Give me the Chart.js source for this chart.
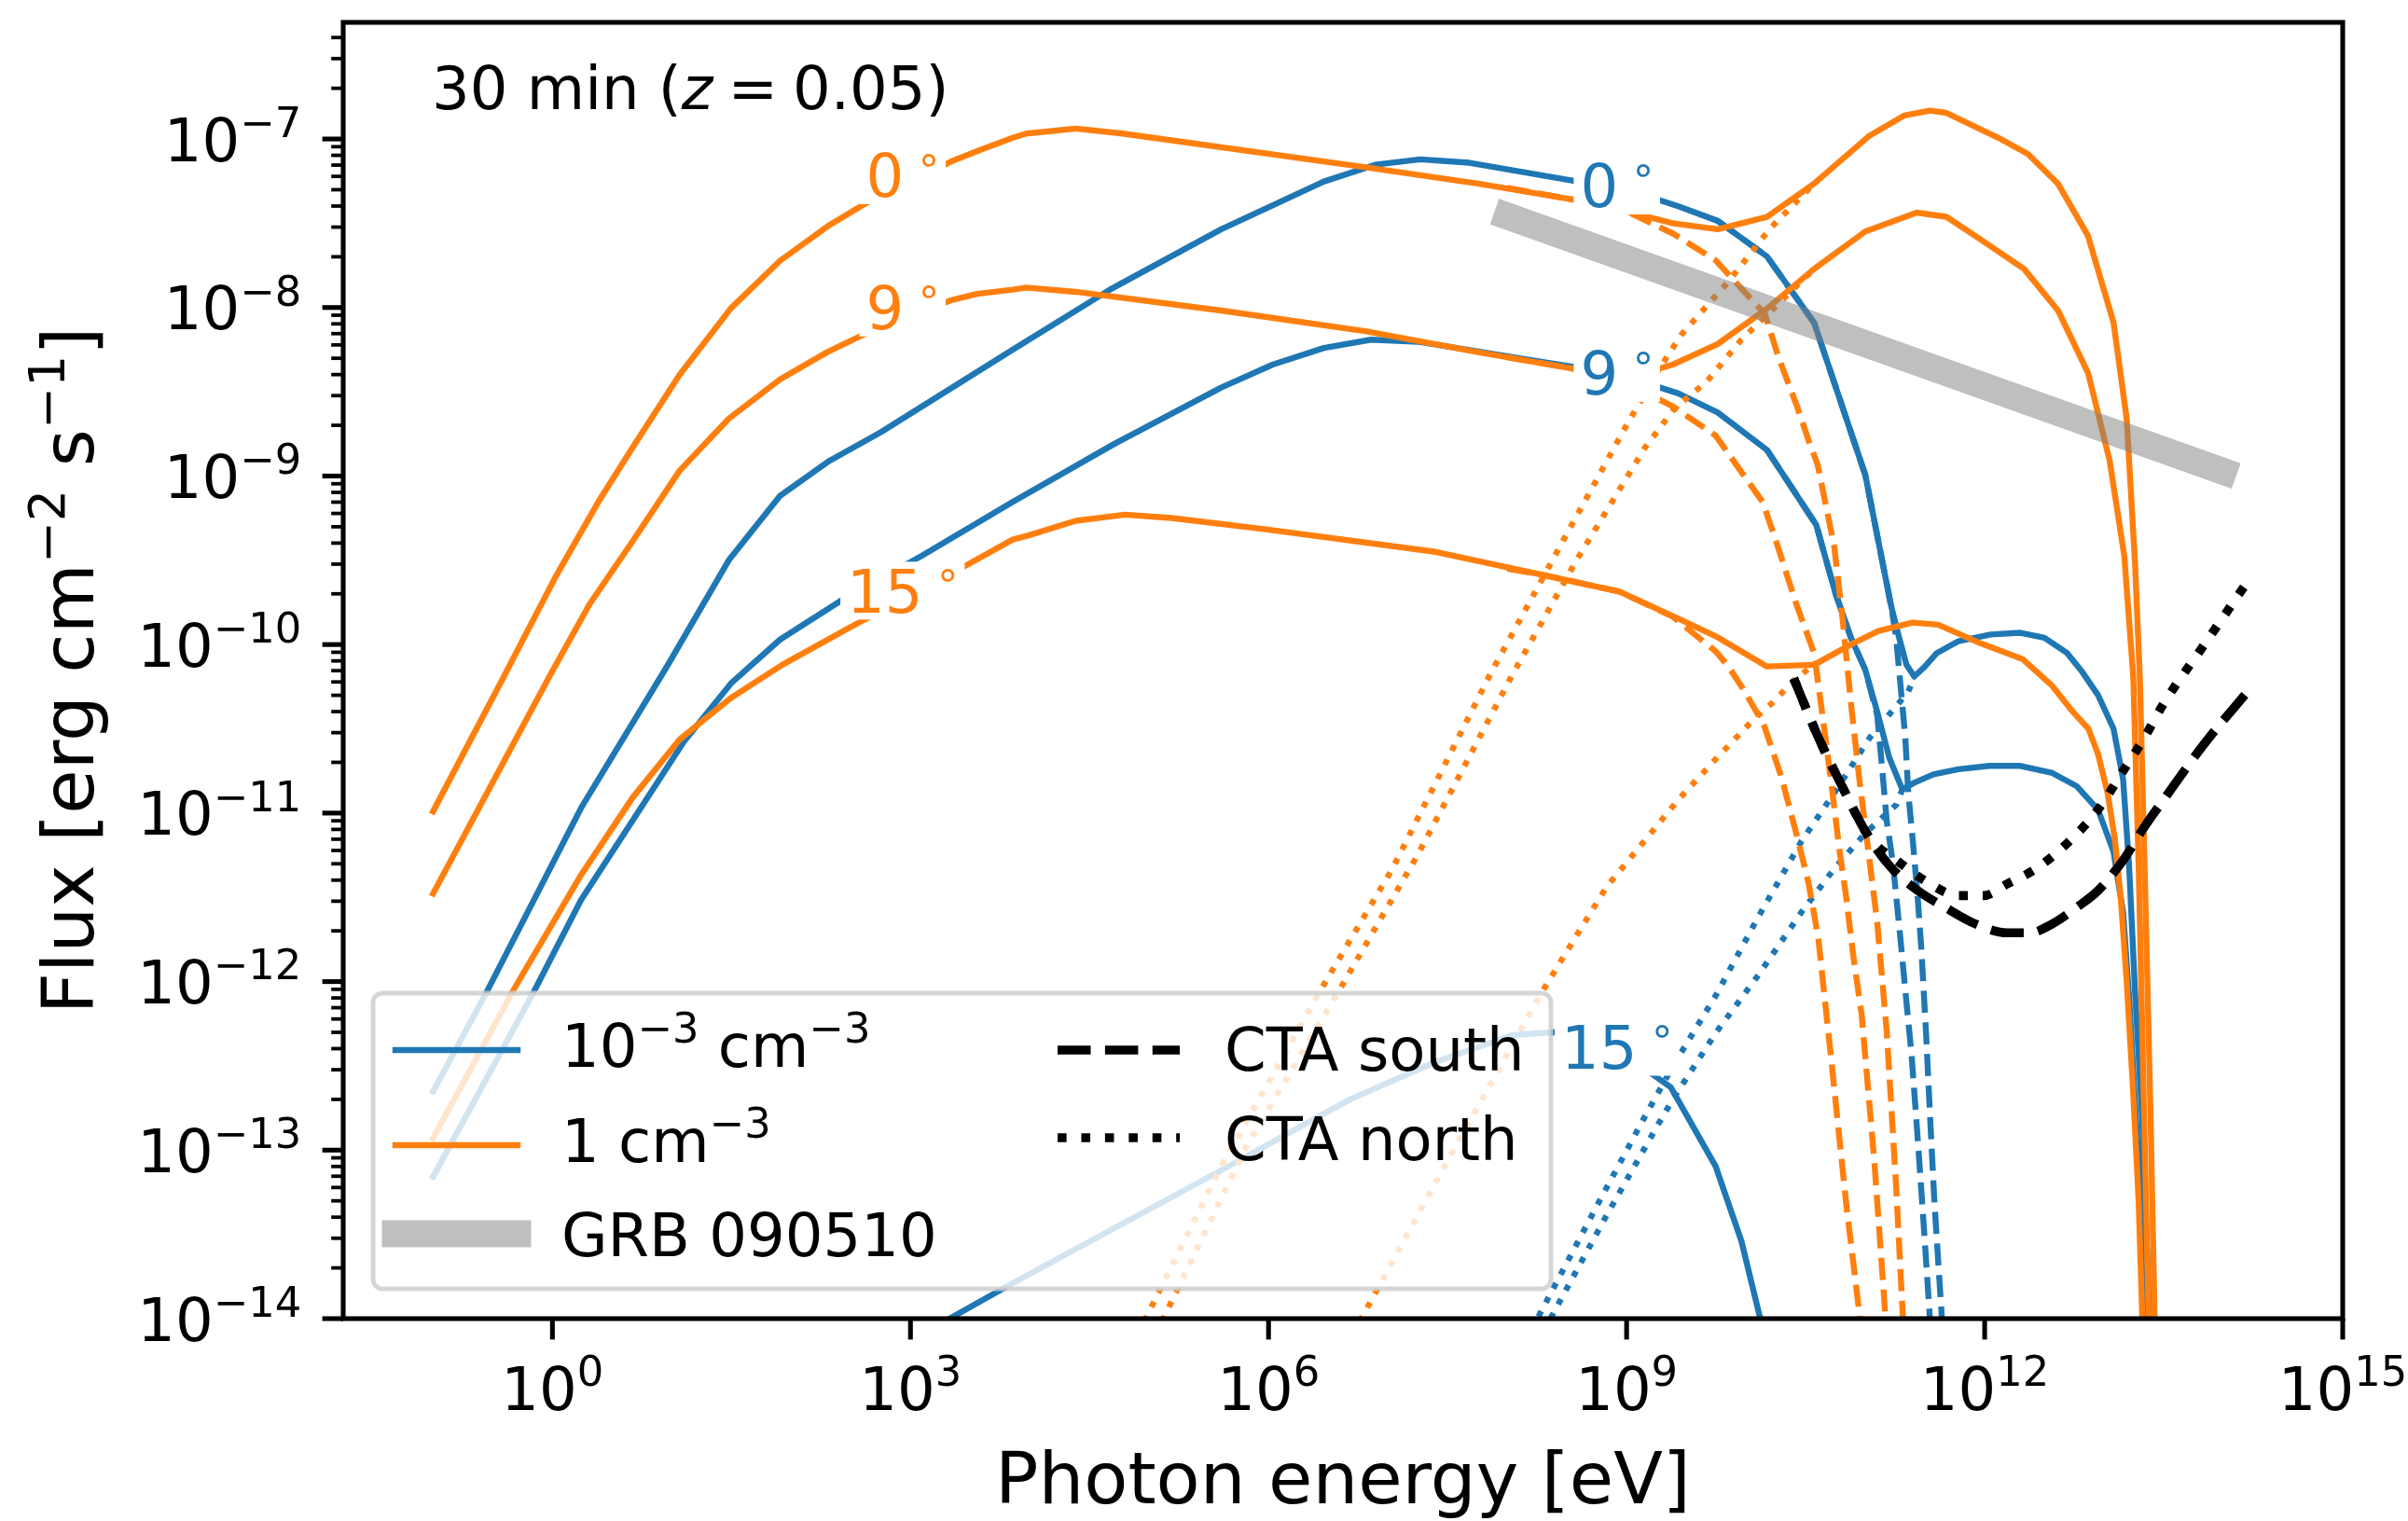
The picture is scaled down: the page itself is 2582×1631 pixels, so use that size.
<!DOCTYPE html>
<html>
<head>
<meta charset="utf-8">
<title>Afterglow spectra, 30 min (z = 0.05)</title>
<script src="https://cdn.jsdelivr.net/npm/chart.js@4.4.1/dist/chart.umd.min.js"></script>
<style>
html,body{margin:0;padding:0;background:#ffffff;overflow:hidden;}
canvas{display:block;}
</style>
</head>
<body>
<canvas id="chart" width="2582" height="1631"></canvas>
<script>
const FONT = "'DejaVu Sans', 'Liberation Sans', sans-serif";
const BLUE = '#1f77b4', ORANGE = '#ff7f0e', BLACK = '#000000', GREY = 'rgba(128,128,128,0.5)';

// ===== DATA: log10(photon energy / eV) and log10(flux / erg cm^-2 s^-1) =====
// n = 1e-3 cm^-3 (blue), total spectra
const b0_logE = [-1.0,-0.549,0.24,0.958,1.477,1.908,2.32,2.751,3.856,4.67,5.603,6.464,6.894,7.27,7.684,8.544,9.064,9.434,9.764,10.176,10.571,11.0,11.216,11.28,11.345,11.41,11.5,11.6,11.78,12.05,12.3,12.5,12.69,12.815,12.95,13.08,13.16,13.21,13.26,13.32,13.36,13.39];
const b0_logF = [-12.652,-12.059,-10.97,-10.132,-9.50,-9.117,-8.91,-8.74,-8.25,-7.894,-7.536,-7.252,-7.153,-7.121,-7.141,-7.247,-7.314,-7.40,-7.486,-7.697,-8.09,-8.994,-9.77,-9.95,-10.12,-10.19,-10.13,-10.05,-9.98,-9.94,-9.93,-9.96,-10.05,-10.16,-10.3,-10.50,-10.80,-11.31,-12.06,-12.82,-13.58,-14.2];
const b9_logE = [-1.0,-0.155,0.24,0.67,1.10,1.497,1.908,2.428,3.091,3.856,4.706,5.603,6.034,6.464,6.859,7.253,8.114,8.544,9.064,9.434,9.764,10.176,10.589,10.751,10.88,11.0,11.1,11.2,11.31,11.41,11.57,11.78,12.04,12.3,12.56,12.77,12.95,13.08,13.16,13.21,13.26,13.32,13.35];
const b9_logF = [-13.158,-12.059,-11.515,-11.046,-10.577,-10.23,-9.97,-9.735,-9.475,-9.154,-8.81,-8.475,-8.339,-8.24,-8.191,-8.203,-8.302,-8.351,-8.426,-8.51,-8.623,-8.845,-9.29,-9.698,-9.96,-10.15,-10.40,-10.67,-10.86,-10.82,-10.77,-10.74,-10.72,-10.72,-10.76,-10.84,-10.98,-11.23,-11.59,-12.09,-12.72,-13.45,-14.2];
const b15_logE = [3.0,3.856,5.603,6.679,7.395,8.042,8.40,8.7,9.172,9.37,9.746,9.962,10.12,10.16];
const b15_logF = [-14.13,-13.79,-13.12,-12.70,-12.478,-12.318,-12.30,-12.32,-12.528,-12.627,-13.096,-13.54,-14.0,-14.15];
// n = 1 cm^-3 (orange), total spectra
const o0_logE = [-1.0,-0.405,0.025,0.384,0.67,1.065,1.495,1.908,2.32,2.625,3.343,3.575,3.856,3.97,4.384,4.778,6.786,7.755,8.58,9.0,9.386,9.764,10.176,10.571,11.036,11.325,11.54,11.68,12.115,12.364,12.614,12.865,13.08,13.19,13.26,13.30,13.35,13.39,13.43];
const o0_logF = [-10.99,-10.187,-9.60,-9.154,-8.833,-8.40,-8.005,-7.722,-7.511,-7.381,-7.133,-7.067,-6.993,-6.968,-6.938,-6.968,-7.165,-7.265,-7.363,-7.43,-7.50,-7.536,-7.462,-7.265,-6.98,-6.861,-6.832,-6.845,-6.993,-7.09,-7.265,-7.573,-8.09,-8.66,-9.52,-10.19,-11.6,-12.8,-14.2];
const o9_logE = [-1.0,-0.011,0.312,0.67,1.065,1.477,1.908,2.302,2.589,3.343,3.558,3.856,3.97,4.384,5.603,6.823,7.755,8.563,9.0,9.386,9.764,10.176,10.571,11.0,11.43,11.68,11.97,12.33,12.615,12.867,13.047,13.17,13.245,13.29,13.33,13.38];
const o9_logF = [-11.478,-10.17,-9.76,-9.389,-8.969,-8.66,-8.426,-8.265,-8.166,-7.956,-7.919,-7.894,-7.882,-7.907,-8.018,-8.142,-8.265,-8.364,-8.42,-8.339,-8.216,-8.006,-7.771,-7.549,-7.437,-7.462,-7.598,-7.771,-8.018,-8.389,-8.907,-9.475,-10.187,-11.3,-12.6,-14.2];
const o15_logE = [-1.0,-0.334,0.24,0.67,1.065,1.495,1.926,2.50,3.45,3.856,3.99,4.384,4.796,5.19,5.962,7.40,8.293,8.939,9.434,9.764,10.176,10.571,10.894,11.11,11.395,11.61,11.97,12.317,12.566,12.74,12.87,12.95,13.03,13.09,13.14,13.19,13.24,13.29,13.33];
const o15_logF = [-12.93,-12.059,-11.367,-10.91,-10.564,-10.317,-10.12,-9.895,-9.537,-9.377,-9.352,-9.266,-9.229,-9.249,-9.315,-9.45,-9.586,-9.686,-9.846,-9.957,-10.13,-10.12,-9.994,-9.92,-9.87,-9.882,-9.994,-10.086,-10.245,-10.40,-10.5,-10.65,-10.88,-11.15,-11.5,-12.0,-12.6,-13.3,-14.2];
// synchrotron components (dashed)
const b0d_logE = [9.764,10.176,10.571,11.0,11.216,11.257,11.335,11.36,11.40,11.44,11.47,11.51,11.544,11.58,11.66];
const b0d_logF = [-7.486,-7.697,-8.09,-8.994,-9.77,-9.95,-10.55,-10.88,-11.18,-11.51,-11.81,-12.32,-12.82,-13.32,-14.2];
const b9d_logE = [10.176,10.589,10.751,10.88,11.0,11.1,11.143,11.18,11.23,11.284,11.335,11.387,11.44,11.49,11.56];
const b9d_logF = [-8.845,-9.29,-9.698,-9.96,-10.15,-10.42,-10.75,-11.05,-11.29,-11.67,-12.05,-12.43,-12.94,-13.45,-14.2];
const o0d_logE = [8.0,8.58,9.0,9.386,9.746,10.16,10.27,10.43,10.535,10.6,10.74,10.81,10.88,10.95,11.03,11.1,11.18,11.257,11.33];
const o0d_logF = [-7.29,-7.363,-7.43,-7.56,-7.72,-8.04,-8.29,-8.59,-8.81,-8.93,-9.42,-9.85,-10.35,-10.8,-11.25,-11.65,-12.3,-13.2,-14.2];
const o9d_logE = [8.0,8.563,9.0,9.386,9.746,10.14,10.248,10.427,10.571,10.647,10.72,10.78,10.84,10.9,10.97,11.076,11.19];
const o9d_logF = [-8.295,-8.364,-8.45,-8.586,-8.76,-9.154,-9.377,-9.77,-10.05,-10.45,-10.85,-11.2,-11.5,-11.85,-12.2,-13.07,-14.2];
const o15d_logE = [8.0,8.293,8.939,9.386,9.746,9.853,9.974,10.149,10.299,10.424,10.523,10.606,10.66,10.71,10.84,10.99];
const o15d_logF = [-9.55,-9.586,-9.686,-9.834,-10.04,-10.13,-10.26,-10.474,-10.79,-11.127,-11.41,-11.74,-12.1,-12.43,-13.32,-14.2];
// inverse-Compton components (dotted)
const b0s_logE = [8.2,8.759,9.154,9.386,9.746,10.105,10.463,10.74,11.04,11.36,11.41];
const b0s_logF = [-14.07,-13.32,-12.80,-12.504,-12.084,-11.614,-11.17,-10.88,-10.55,-10.28,-10.19];
const b9s_logE = [8.3,8.83,9.262,9.386,9.746,10.105,10.463,10.74,11.0,11.26,11.31];
const b9s_logF = [-14.08,-13.39,-12.85,-12.70,-12.306,-11.96,-11.59,-11.33,-11.12,-10.95,-10.86];
const o0s_logE = [4.9,5.603,6.428,7.038,7.862,8.473,9.01,9.297,9.46,9.853,10.21,10.571];
const o0s_logF = [-14.1,-13.096,-12.06,-11.33,-10.17,-9.377,-8.685,-8.339,-8.16,-7.846,-7.525,-7.265];
const o9s_logE = [5.05,5.818,6.607,7.253,8.042,8.58,9.153,9.40,9.674,9.962,10.25,10.463,10.571];
const o9s_logF = [-14.1,-12.973,-12.034,-11.244,-10.18,-9.50,-8.833,-8.60,-8.438,-8.191,-7.993,-7.845,-7.771];
const o15s_logE = [6.7,7.396,8.293,8.83,9.434,9.746,10.07,10.215,10.42,10.571];
const o15s_logF = [-14.1,-13.196,-12.059,-11.44,-10.92,-10.68,-10.44,-10.35,-10.2,-10.12];
// CTA 30-min sensitivities
const ctaS_logE = [10.40,10.606,10.815,11.0,11.2,11.44,11.67,11.93,12.19,12.38,12.56,12.77,12.95,13.16,13.34,13.5,13.85,14.19];
const ctaS_logF = [-10.20,-10.55,-10.855,-11.108,-11.31,-11.46,-11.56,-11.66,-11.71,-11.71,-11.66,-11.56,-11.46,-11.28,-11.08,-10.92,-10.58,-10.29];
const ctaN_logE = [10.40,10.606,10.815,11.0,11.076,11.26,11.52,11.78,11.99,12.19,12.43,12.69,12.95,13.16,13.34,13.5,13.85,14.19];
const ctaN_logF = [-10.20,-10.55,-10.855,-11.108,-11.18,-11.28,-11.41,-11.49,-11.49,-11.42,-11.33,-11.18,-10.98,-10.75,-10.55,-10.35,-9.99,-9.64];
// GRB 090510 extrapolated spectrum
const grb_logE = [8.0, 14.0];
const grb_logF = [-7.457, -8.973];

// axis limits and ticks (exponents)
const xLimExp = [-1.753, 15];
const yLimExp = [-14, -6.308];
const xTickExps = [0, 3, 6, 9, 12, 15];
const yTickExps = [-14, -13, -12, -11, -10, -9, -8, -7];

// inline angle labels
const angleText  = ['0', '9', '15', '0', '9', '15'];
const angleColor = [ORANGE, ORANGE, ORANGE, BLUE, BLUE, BLUE];
const angleLogE  = [2.945, 2.945, 2.945, 8.93, 8.93, 8.93];
const angleLogF  = [-7.215, -8.0, -9.68, -7.276, -8.388, -12.387];

// ===== build datasets =====
function toPoints(le, lf) {
  const n = Math.min(le.length, lf.length), out = [];
  for (let i = 0; i < n; i++) out.push({ x: Math.pow(10, le[i]), y: Math.pow(10, lf[i]) });
  return out;
}
const LW = 6.4, LWB = 9.6;
// bottom -> top drawing order
const layers = [
  [b0_logE, b0_logF, BLUE, 'solid', LW],
  [b0d_logE, b0d_logF, BLUE, 'dashed', LW],
  [b0s_logE, b0s_logF, BLUE, 'dotted', LW],
  [b9_logE, b9_logF, BLUE, 'solid', LW],
  [b9d_logE, b9d_logF, BLUE, 'dashed', LW],
  [b9s_logE, b9s_logF, BLUE, 'dotted', LW],
  [b15_logE, b15_logF, BLUE, 'solid', LW],
  [o0_logE, o0_logF, ORANGE, 'solid', LW],
  [o0d_logE, o0d_logF, ORANGE, 'dashed', LW],
  [o0s_logE, o0s_logF, ORANGE, 'dotted', LW],
  [o9_logE, o9_logF, ORANGE, 'solid', LW],
  [o9d_logE, o9d_logF, ORANGE, 'dashed', LW],
  [o9s_logE, o9s_logF, ORANGE, 'dotted', LW],
  [o15_logE, o15_logF, ORANGE, 'solid', LW],
  [o15d_logE, o15d_logF, ORANGE, 'dashed', LW],
  [o15s_logE, o15s_logF, ORANGE, 'dotted', LW],
  [ctaS_logE, ctaS_logF, BLACK, 'dashed', LWB, true],
  [ctaN_logE, ctaN_logF, BLACK, 'dotted', LWB, true],
  [grb_logE, grb_logF, GREY, 'solid', 29]
];
const datasets = layers.map((L, i) => {
  const [le, lf, color, style, lw, smooth] = L;
  let dash = [], cap = 'square';
  if (style === 'dashed') { dash = [3.7 * lw, 1.6 * lw]; cap = 'butt'; }
  if (style === 'dotted') { dash = [lw, 1.65 * lw]; cap = 'butt'; }
  return {
    data: toPoints(le, lf), showLine: true, fill: false,
    borderColor: color, backgroundColor: color, borderWidth: lw,
    borderDash: dash, borderCapStyle: cap, borderJoinStyle: 'round',
    pointRadius: 0, pointHoverRadius: 0, pointHitRadius: 0,
    tension: 0, cubicInterpolationMode: smooth ? 'monotone' : 'default',
    clip: 0, order: layers.length - i
  };
});

// ===== text helpers =====
function setFont(ctx, size, italic) { ctx.font = (italic ? 'italic ' : '') + size + 'px ' + FONT; }
function measureParts(ctx, parts, size) {
  let w = 0;
  for (const p of parts) {
    setFont(ctx, p.sup ? size * 0.7 : size, p.it);
    w += ctx.measureText(p.t).width + (p.gap || 0) * size;
  }
  return w;
}
function drawParts(ctx, parts, x, baseline, size, align) {
  const w = measureParts(ctx, parts, size);
  let cx = align === 'center' ? x - w / 2 : (align === 'right' ? x - w : x);
  ctx.textAlign = 'left'; ctx.textBaseline = 'alphabetic';
  for (const p of parts) {
    setFont(ctx, p.sup ? size * 0.7 : size, p.it);
    ctx.fillText(p.t, cx, baseline + (p.sup ? -0.4 * size : 0));
    cx += ctx.measureText(p.t).width + (p.gap || 0) * size;
  }
  return w;
}
function expText(k) { return k < 0 ? '\u2212' + (-k) : String(k); }
function hline(ctx, x1, y1, x2, y2) { ctx.beginPath(); ctx.moveTo(x1, y1); ctx.lineTo(x2, y2); ctx.stroke(); }
function roundRectPath(ctx, x, y, w, h, r) {
  ctx.beginPath();
  ctx.moveTo(x + r, y); ctx.lineTo(x + w - r, y); ctx.arcTo(x + w, y, x + w, y + r, r);
  ctx.lineTo(x + w, y + h - r); ctx.arcTo(x + w, y + h, x + w - r, y + h, r);
  ctx.lineTo(x + r, y + h); ctx.arcTo(x, y + h, x, y + h - r, r);
  ctx.lineTo(x, y + r); ctx.arcTo(x, y, x + r, y, r); ctx.closePath();
}

// ===== legend =====
const legendEntries = [
  { col: 0, hy: 61, by: 79, kind: 'solid', color: BLUE, parts: [{t:'10'},{t:'\u22123',sup:true},{t:' cm'},{t:'\u22123',sup:true}] },
  { col: 0, hy: 163, by: 181, kind: 'solid', color: ORANGE, parts: [{t:'1 cm'},{t:'\u22123',sup:true}] },
  { col: 0, hy: 258, by: 282, kind: 'band', color: GREY, parts: [{t:'GRB 090510'}] },
  { col: 1, hy: 61, by: 83, kind: 'dashed', color: BLACK, parts: [{t:'CTA south'}] },
  { col: 1, hy: 155, by: 179, kind: 'dotted', color: BLACK, parts: [{t:'CTA north'}] }
];
function drawLegend(ctx, ca) {
  const x0 = ca.left + 32, W = 1263, H = 317, y0 = ca.bottom - 32 - H;
  ctx.save();
  roundRectPath(ctx, x0, y0, W, H, 10);
  ctx.fillStyle = 'rgba(255,255,255,0.8)'; ctx.fill();
  ctx.lineWidth = 5; ctx.strokeStyle = 'rgba(204,204,204,0.8)'; ctx.setLineDash([]); ctx.stroke();
  for (const e of legendEntries) {
    const hx1 = e.col === 0 ? x0 + 24 : x0 + 734;
    const hx2 = hx1 + 131;
    const hy = y0 + e.hy;
    ctx.strokeStyle = e.color;
    if (e.kind === 'solid') { ctx.lineWidth = LW; ctx.setLineDash([]); ctx.lineCap = 'square'; }
    else if (e.kind === 'band') { ctx.lineWidth = 29; ctx.setLineDash([]); ctx.lineCap = 'square'; }
    else if (e.kind === 'dashed') { ctx.lineWidth = LWB; ctx.setLineDash([3.7 * LWB, 1.6 * LWB]); ctx.lineCap = 'butt'; }
    else { ctx.lineWidth = LWB; ctx.setLineDash([LWB, 1.65 * LWB]); ctx.lineCap = 'butt'; }
    hline(ctx, hx1, hy, hx2, hy);
    ctx.setLineDash([]);
    ctx.fillStyle = '#000';
    drawParts(ctx, e.parts, e.col === 0 ? x0 + 202 : x0 + 913, y0 + e.by, 64, 'left');
  }
  ctx.restore();
}

// ===== inline angle labels =====
function drawAngleLabels(ctx, xs, ys) {
  ctx.save();
  for (let i = 0; i < angleText.length; i++) {
    const parts = [{t: angleText[i], gap: 0.2}, {t: '\u2218', sup: true}];
    const w = measureParts(ctx, parts, 64);
    const cx = xs.getPixelForValue(Math.pow(10, angleLogE[i]));
    const cy = ys.getPixelForValue(Math.pow(10, angleLogF[i]));
    ctx.fillStyle = '#ffffff';
    ctx.fillRect(cx - w / 2 - 7, cy - 31, w + 11, 62);
    ctx.fillStyle = angleColor[i];
    drawParts(ctx, parts, cx, cy + 23.3, 64, 'center');
  }
  ctx.restore();
}

// ===== axes, frame, titles =====
function drawAxes(ctx, ca, xs, ys) {
  ctx.save();
  ctx.strokeStyle = '#000'; ctx.fillStyle = '#000'; ctx.lineCap = 'butt'; ctx.setLineDash([]);
  const majorLen = 22.4, minorLen = 12.8, pad = 22.4;
  ctx.lineWidth = 3.8;
  for (const k of yTickExps) {
    for (let m = 2; m <= 9; m++) {
      const v = m * Math.pow(10, k);
      if (v > ys.max || v < ys.min) continue;
      const py = ys.getPixelForValue(v);
      hline(ctx, ca.left - minorLen, py, ca.left, py);
    }
  }
  ctx.lineWidth = 5.1;
  for (const k of yTickExps) {
    const py = ys.getPixelForValue(Math.pow(10, k));
    hline(ctx, ca.left - majorLen, py, ca.left, py);
    drawParts(ctx, [{t:'10'}, {t: expText(k), sup: true}], ca.left - majorLen - pad, py + 23.5, 64, 'right');
  }
  for (const k of xTickExps) {
    const px = xs.getPixelForValue(Math.pow(10, k));
    hline(ctx, px, ca.bottom, px, ca.bottom + majorLen);
    drawParts(ctx, [{t:'10'}, {t: expText(k), sup: true}], px, ca.bottom + 98, 64, 'center');
  }
  ctx.lineWidth = 5.1;
  ctx.strokeRect(ca.left, ca.top, ca.right - ca.left, ca.bottom - ca.top);
  drawParts(ctx, [{t:'Photon energy [eV]'}], (ca.left + ca.right) / 2, 1612, 77, 'center');
  ctx.save();
  ctx.translate(100, (ca.top + ca.bottom) / 2);
  ctx.rotate(-Math.PI / 2);
  drawParts(ctx, [{t:'Flux [erg cm'}, {t:'\u22122', sup:true}, {t:' s'}, {t:'\u22121', sup:true}, {t:']'}], 0, 0, 77, 'center');
  ctx.restore();
  // annotation
  drawParts(ctx, [{t:'30 min ('}, {t:'z', it:true, gap:0.25}, {t:'=', gap:0.25}, {t:'0.05)'}], ca.left + 95, ca.top + 93, 64, 'left');
  ctx.restore();
}

const overlay = {
  id: 'overlay',
  beforeDraw(chart) {
    const ctx = chart.ctx;
    ctx.save(); ctx.fillStyle = '#ffffff'; ctx.fillRect(0, 0, chart.width, chart.height); ctx.restore();
  },
  afterDatasetsDraw(chart) {
    const ctx = chart.ctx, ca = chart.chartArea, xs = chart.scales.x, ys = chart.scales.y;
    drawLegend(ctx, ca);
    drawAngleLabels(ctx, xs, ys);
    drawAxes(ctx, ca, xs, ys);
  }
};

new Chart(document.getElementById('chart'), {
  type: 'scatter',
  data: { datasets },
  options: {
    responsive: false, animation: false, devicePixelRatio: 1, events: [],
    layout: { padding: { left: 368, right: 70, top: 24, bottom: 217 } },
    scales: {
      x: { type: 'logarithmic', min: Math.pow(10, xLimExp[0]), max: Math.pow(10, xLimExp[1]), display: false },
      y: { type: 'logarithmic', min: Math.pow(10, yLimExp[0]), max: Math.pow(10, yLimExp[1]), display: false }
    },
    plugins: { legend: { display: false }, tooltip: { enabled: false } }
  },
  plugins: [overlay]
});
</script>
</body>
</html>
